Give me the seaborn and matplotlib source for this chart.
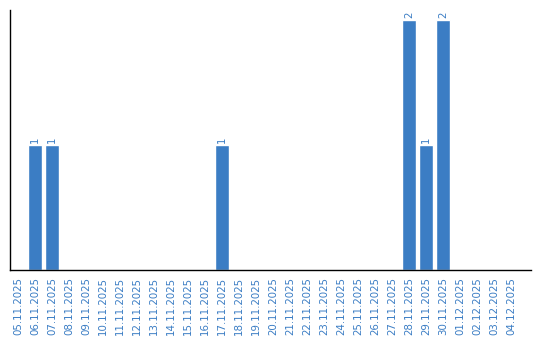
import matplotlib
matplotlib.use("Agg")
import matplotlib.pyplot as plt
import seaborn as sns
import pandas as pd

dates = ["05.11.2025", "06.11.2025", "07.11.2025", "08.11.2025", "09.11.2025",
         "10.11.2025", "11.11.2025", "12.11.2025", "13.11.2025", "14.11.2025",
         "15.11.2025", "16.11.2025", "17.11.2025", "18.11.2025", "19.11.2025",
         "20.11.2025", "21.11.2025", "22.11.2025", "23.11.2025", "24.11.2025",
         "25.11.2025", "26.11.2025", "27.11.2025", "28.11.2025", "29.11.2025",
         "30.11.2025", "01.12.2025", "02.12.2025", "03.12.2025", "04.12.2025"]
counts = [0, 1, 1, 0, 0, 0, 0, 0, 0, 0, 0, 0, 1, 0, 0, 0, 0, 0, 0, 0,
          0, 0, 0, 2, 1, 2, 0, 0, 0, 0]

df = pd.DataFrame({"date": dates, "count": counts})

sns.set_style("white")
blue = "#3b7dc4"
fig = plt.figure(figsize=(5.4, 3.4), dpi=100)
ax = fig.add_axes([10/540, 70/340, 521/540, 260/340])
sns.barplot(data=df, x="date", y="count", color=blue, saturation=1, width=0.82, ax=ax)
ax.set_xlim(-0.47, 30.18)
ax.set_ylim(0, 2.08)
ax.set_xlabel("")
ax.set_ylabel("")
ax.set_yticks([])
for s in ["top", "right"]:
    ax.spines[s].set_visible(False)
for s in ["left", "bottom"]:
    ax.spines[s].set_color("black")
    ax.spines[s].set_linewidth(1.0)
ax.tick_params(axis="x", length=0, pad=5, labelsize=7.4, labelcolor=blue, rotation=90)
for i, v in enumerate(counts):
    if v > 0:
        ax.text(i, v + 0.02, str(v), rotation=90, ha="center", va="bottom",
                fontsize=7.4, color=blue)
fig.savefig("out.png", dpi=100)
